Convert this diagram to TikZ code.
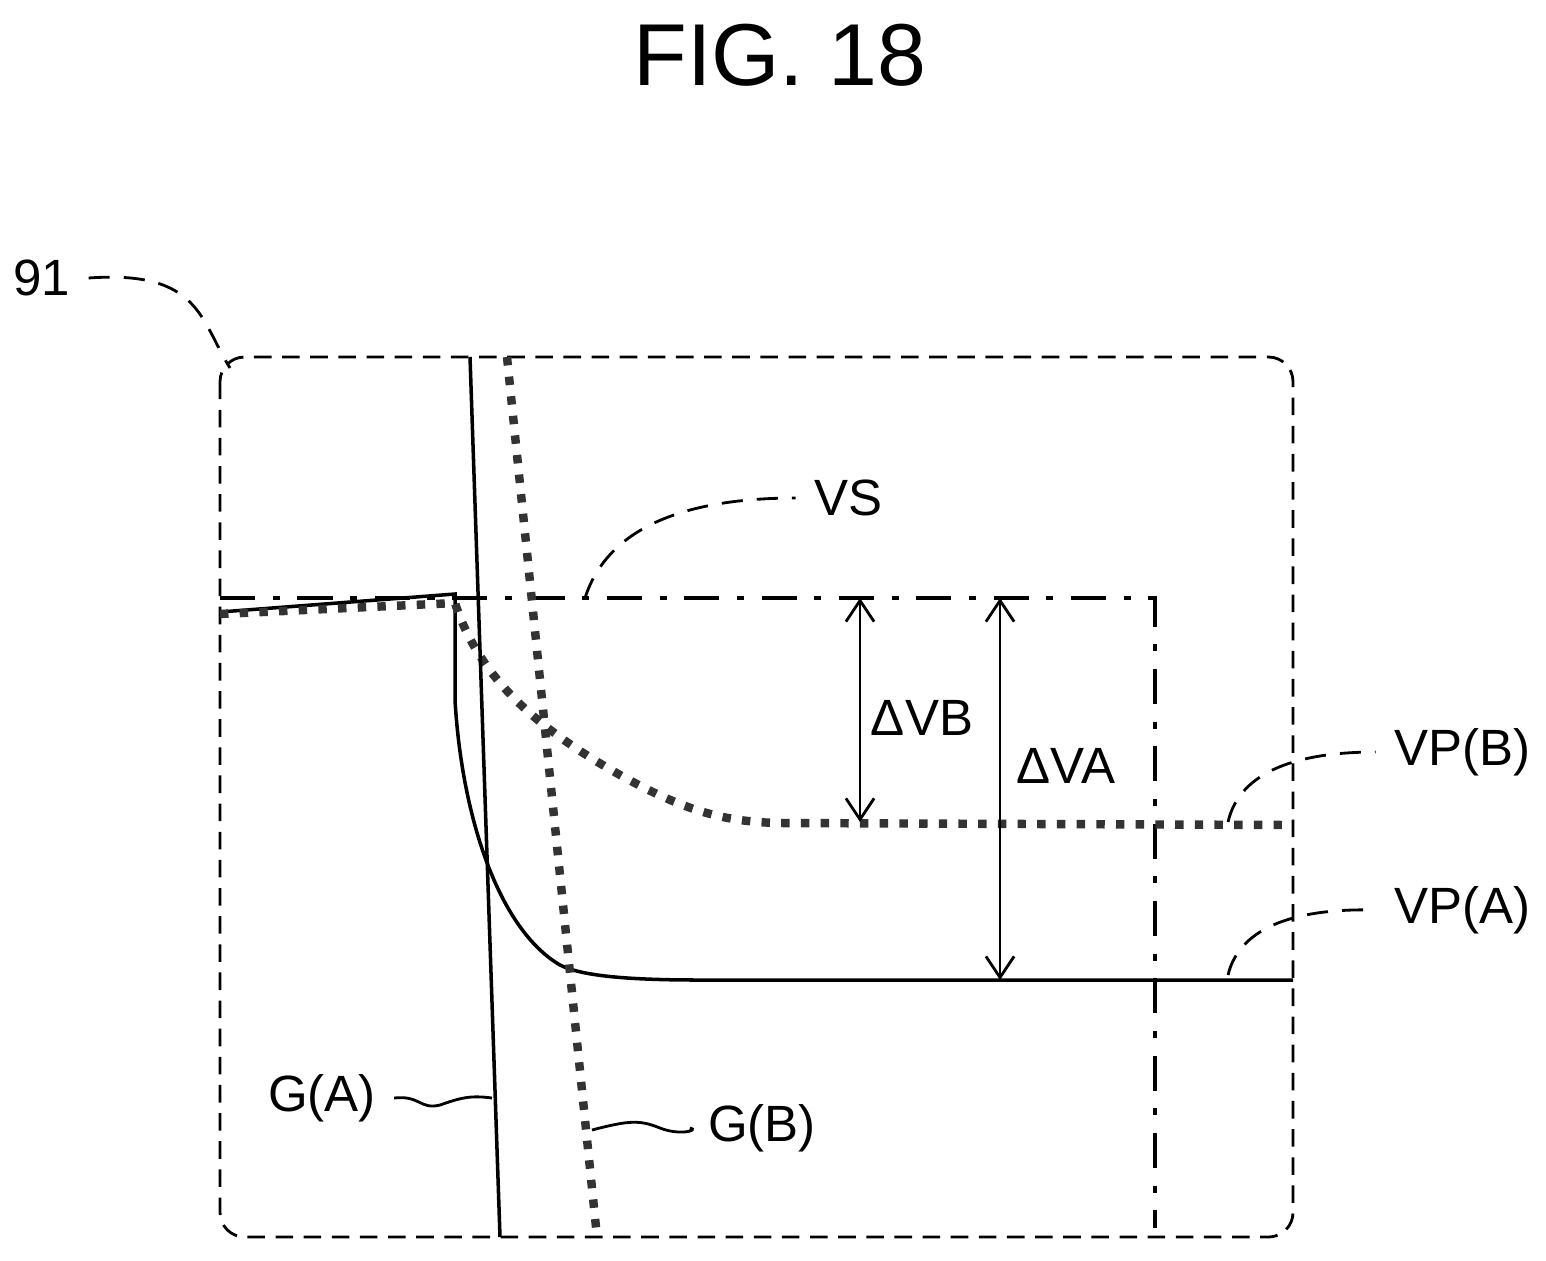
\documentclass[tikz,border=0pt]{standalone}
\usepackage{fontspec}
\setmainfont{Liberation Sans}
\usetikzlibrary{arrows.meta}
\tikzset{
  lbl/.style={font=\fontsize{14.5}{17}\selectfont, inner sep=5pt},
  frame/.style={dashed, dash pattern=on 5pt off 3pt, line width=0.8pt},
  lead/.style={dashed, dash pattern=on 6pt off 4pt, line width=0.8pt},
  dashdot/.style={line width=1pt, dash pattern=on 10pt off 5pt on 2pt off 5pt},
  sq/.style={line width=2.4pt, dash pattern=on 2.4pt off 3.2pt, gray!40!black},
  dim/.style={{Straight Barb[length=6pt,width=8pt]}-{Straight Barb[length=6pt,width=8pt]}, line width=0.8pt},
}
\begin{document}
\begin{tikzpicture}[x=0.01cm,y=-0.01cm]
\useasboundingbox (0,0) rectangle (1546,1260);
\node[font=\fontsize{25}{30}\selectfont] (title) at (780,55) {FIG. 18};
% frame
\draw[frame, rounded corners=7pt] (220,357) rectangle (1293,1237);
\node[lbl] (n91) at (42,278) {91};
\coordinate (f91) at (230,368);
\draw[lead] (n91.east) .. controls (200,270) and (200,320) .. (f91);
% VS level
\coordinate (vsl) at (220,598);
\coordinate (vsr) at (1155,598);
\coordinate (vsb) at (1155,1228);
\draw[dashdot] (vsl) -- (vsr) -- (vsb);
\node[lbl] (VS) at (848,498) {VS};
\coordinate (vsf) at (585,598);
\draw[lead] (vsf) .. controls (610,520) and (700,498) .. (VS.west);
% curves
\draw[line width=1pt] (220,612) -- (455,594) -- (455,700)
  .. controls (462,820) and (500,930) .. (560,965)
  .. controls (580,975) and (620,980) .. (700,980) -- (1293,980);
\draw[sq] (220,614) -- (455,603) .. controls (480,680) and (540,730) .. (620,775)
  .. controls (680,808) and (720,822) .. (780,823) -- (1293,825);
\coordinate (gat) at (470,357); \coordinate (gab) at (500,1237);
\draw[line width=1pt] (gat) -- (gab);
\coordinate (gbt) at (507,357); \coordinate (gbb) at (597,1237);
\draw[sq] (gbt) -- (gbb);
% dimensions
\coordinate (dbt) at (860,598); \coordinate (dbb) at (860,822);
\draw[dim] (dbt) -- (dbb);
\node[lbl] (dVB) at (922,718) {ΔVB};
\coordinate (dat) at (1000,598); \coordinate (dab) at (1000,980);
\draw[dim] (dat) -- (dab);
\node[lbl] (dVA) at (1066,766) {ΔVA};
% labels
\node[lbl] (VPB) at (1462,752) {VP(B)};
\coordinate (vpbf) at (1228,822);
\draw[lead] (vpbf) .. controls (1240,770) and (1300,752) .. (VPB.west);
\node[lbl] (VPA) at (1462,910) {VP(A)};
\coordinate (vpaf) at (1228,975);
\draw[lead] (vpaf) .. controls (1240,925) and (1300,908) .. (VPA.west);
\node[lbl] (GA) at (322,1098) {G(A)};
\coordinate (gaf) at (492,1098);
\draw[line width=0.8pt] (GA.east) .. controls (420,1095) and (420,1110) .. (440,1105) .. controls (460,1098) and (470,1095) .. (gaf);
\node[lbl] (GB) at (762,1128) {G(B)};
\coordinate (gbf) at (592,1130);
\draw[line width=0.8pt] (gbf) .. controls (630,1120) and (640,1120) .. (660,1128) .. controls (680,1136) and (700,1130) .. (GB.west);
\end{tikzpicture}
\end{document}
